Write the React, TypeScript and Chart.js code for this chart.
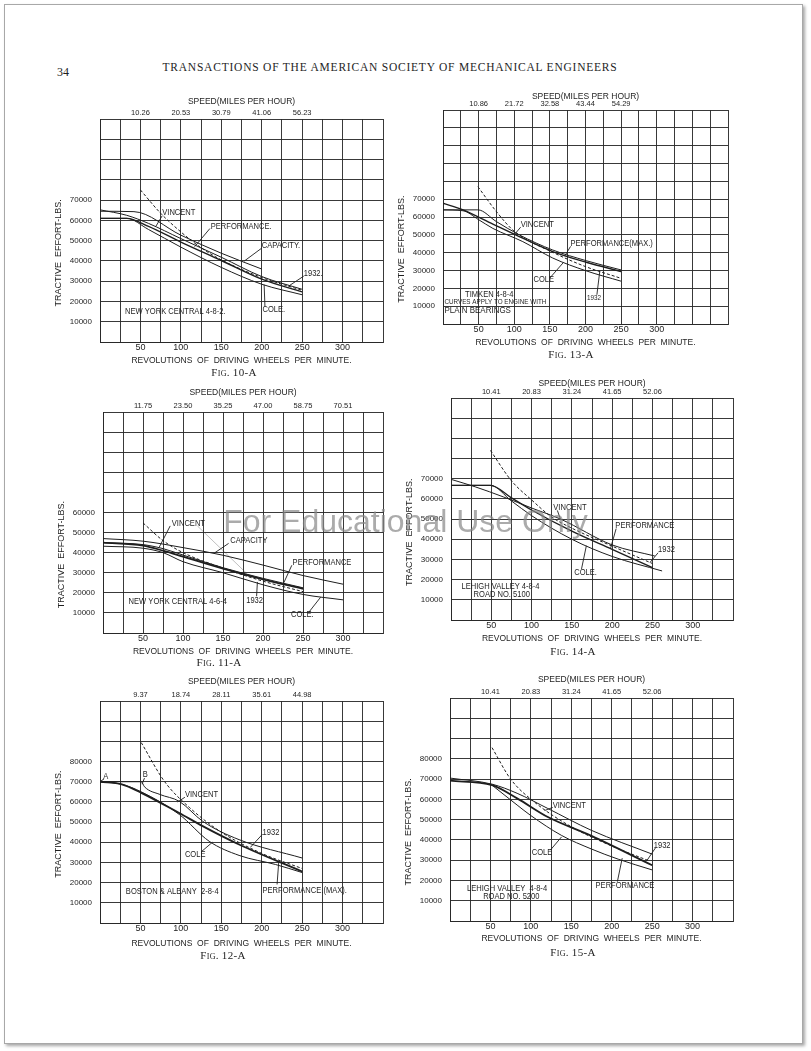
import React, { useEffect, useRef } from 'react';
import { Chart, registerables } from 'chart.js';

Chart.register(...registerables);

type Pt = [number, number];

// ---------------- DATA ----------------
const rpmLabelValues = [50, 100, 150, 200, 250, 300];
const speedTickValues = [50, 100, 150, 200, 250, 300];

// Fig. 10-A  New York Central 4-8-2
const fig10Speeds = ['10.26', '20.53', '30.79', '41.06', '56.23'];
const fig10Capacity: Pt[] = [[0, 64500], [42, 64300], [100, 52700], [150, 43800], [200, 36000]];
const fig10Vincent: Pt[] = [[0, 65200], [33, 62500], [60, 58500], [100, 51000], [150, 41800], [200, 32300], [250, 26000]];
const fig10Performance: Pt[] = [[0, 61000], [33, 61000], [60, 57000], [100, 49300], [150, 40200], [200, 31000], [250, 24700]];
const fig10Cole: Pt[] = [[0, 61000], [33, 61000], [60, 55500], [100, 46800], [150, 36800], [200, 28500], [250, 23300]];
const fig10Y1932: Pt[] = [[50, 75000], [75, 63500], [100, 54300], [125, 46500], [150, 40500], [200, 31800], [250, 25500]];

// Fig. 13-A  Timken 4-8-4
const fig13Speeds = ['10.86', '21.72', '32.58', '43.44', '54.29'];
const fig13Vincent: Pt[] = [[0, 64000], [49, 64000], [75, 57400], [107, 50000], [154, 41500], [201, 35500], [250, 30300]];
const fig13Performance: Pt[] = [[0, 67700], [28, 64000], [70, 56000], [107, 49000], [154, 40600], [201, 34600], [250, 29400]];
const fig13Cole: Pt[] = [[0, 64000], [28, 63500], [50, 58500], [70, 53600], [112, 46200], [154, 37000], [201, 29800], [250, 24000]];
const fig13Y1932: Pt[] = [[49, 77000], [75, 63000], [100, 52000], [154, 40200], [200, 32200], [250, 25600]];

// Fig. 11-A  New York Central 4-6-4
const fig11Speeds = ['11.75', '23.50', '35.25', '47.00', '58.75', '70.51'];
const fig11Capacity: Pt[] = [[0, 47000], [50, 45700], [100, 42500], [150, 38700], [200, 33800], [250, 28600], [300, 24300]];
const fig11Vincent: Pt[] = [[0, 45000], [50, 44000], [75, 42000], [100, 38800], [150, 32500], [200, 27200], [250, 22500]];
const fig11Performance: Pt[] = [[0, 45000], [50, 43500], [75, 41000], [100, 38000], [150, 32000], [200, 26700], [250, 22000]];
const fig11Cole: Pt[] = [[0, 43200], [50, 42200], [75, 40000], [100, 35500], [150, 30000], [200, 24000], [250, 19200], [300, 16500]];
const fig11Y1932: Pt[] = [[50, 54800], [75, 46000], [100, 40000], [150, 32300], [200, 25800], [250, 20600]];

// Fig. 14-A  Lehigh Valley 4-8-4 No. 5100
const fig14Speeds = ['10.41', '20.83', '31.24', '41.65', '52.06'];
const fig14Vincent: Pt[] = [[0, 69700], [30, 66000], [65, 61000], [100, 55500], [136, 50000], [200, 37200], [253, 31700]];
const fig14Performance: Pt[] = [[0, 66700], [49, 66700], [75, 60500], [100, 54500], [150, 44000], [200, 35000], [250, 26000]];
const fig14Cole: Pt[] = [[0, 66700], [49, 66700], [75, 59000], [100, 51700], [150, 40000], [200, 31500], [262, 24300]];
const fig14Y1932: Pt[] = [[49, 84000], [75, 69000], [100, 59500], [125, 51000], [150, 45500], [200, 36600], [250, 28000]];

// Fig. 12-A  Boston & Albany 2-8-4
const fig12Speeds = ['9.37', '18.74', '28.11', '35.61', '44.98'];
const fig12Vincent: Pt[] = [[0, 70000], [51, 70000], [55, 67500], [74, 63700], [98, 60300], [127, 50400], [172, 41300], [250, 32200]];
const fig12Performance: Pt[] = [[0, 70000], [27, 68700], [51, 64500], [98, 54500], [127, 48000], [172, 38900], [250, 25500]];
const fig12Cole: Pt[] = [[0, 70000], [27, 68700], [51, 65000], [98, 53800], [135, 40500], [172, 33500], [217, 29000], [250, 25000]];
const fig12Y1932: Pt[] = [[51, 89400], [80, 70000], [111, 57100], [150, 45000], [200, 34500], [250, 27000]];

// Fig. 15-A  Lehigh Valley 4-8-4 No. 5200
const fig15Speeds = ['10.41', '20.83', '31.24', '41.65', '52.06'];
const fig15Vincent: Pt[] = [[0, 70500], [52, 67500], [83, 63000], [121, 55500], [175, 44700], [250, 33000]];
const fig15Performance: Pt[] = [[0, 69200], [52, 67000], [83, 60500], [121, 51300], [175, 42000], [250, 27500]];
const fig15Cole: Pt[] = [[52, 67000], [83, 57200], [100, 52000], [138, 42200], [175, 35500], [208, 30500], [250, 25200]];
const fig15Y1932: Pt[] = [[52, 85500], [75, 70000], [104, 58800], [150, 46500], [200, 37000], [246, 29700]];

// ---------------- LAYOUT ----------------
interface Note { text: string; at: Pt; leader?: [Pt, Pt]; size?: number; faint?: boolean }
interface Series { data: Pt[]; dashed?: boolean; width?: number }
interface Panel {
  caption: string; captionX: number; captionY: number;
  plot: { l: number; t: number; r: number; b: number };
  xMax: number; yMax: number; yLabelMax: number;
  speeds: string[];
  series: Series[];
  notes: Note[];
  yTitleAt: number;
  speedGap: number; revGap: number;
}

const SANS = "'Liberation Sans', 'DejaVu Sans', Arial, sans-serif";
const SERIF = "'Liberation Serif', 'DejaVu Serif', 'Times New Roman', serif";
const INK = '#1e1e1e';
const GRID = 'rgba(40,40,40,0.92)';

const panels: Panel[] = [
  {
    caption: 'Fig. 10-A', captionX: 234, captionY: 373,
    plot: { l: 100, t: 119, r: 383, b: 342 }, xMax: 350, yMax: 110000, yLabelMax: 70000,
    speeds: fig10Speeds, yTitleAt: 44000, speedGap: 17, revGap: 16,
    series: [
      { data: fig10Capacity }, { data: fig10Vincent }, { data: fig10Performance, width: 1.4 },
      { data: fig10Cole }, { data: fig10Y1932, dashed: true },
    ],
    notes: [
      { text: 'VINCENT', at: [77, 63700], leader: [[77, 62300], [69, 57000]] },
      { text: 'PERFORMANCE.', at: [137, 57200], leader: [[136, 56000], [117, 47000]] },
      { text: 'CAPACITY.', at: [200, 47500], leader: [[200, 46300], [178, 39800]] },
      { text: '1932.', at: [252, 33700], leader: [[252, 32500], [233, 27500]] },
      { text: 'COLE.', at: [201, 15800], leader: [[204, 17500], [203, 28300]] },
      { text: 'NEW YORK CENTRAL 4-8-2.', at: [31, 15000] },
    ],
  },
  {
    caption: 'Fig. 13-A', captionX: 571, captionY: 355,
    plot: { l: 443, t: 110, r: 728, b: 324 }, xMax: 400, yMax: 120000, yLabelMax: 70000,
    speeds: fig13Speeds, yTitleAt: 42000, speedGap: 13, revGap: 16,
    series: [
      { data: fig13Vincent }, { data: fig13Performance, width: 1.4 }, { data: fig13Cole }, { data: fig13Y1932, dashed: true },
    ],
    notes: [
      { text: 'VINCENT', at: [109, 55700], leader: [[109, 54300], [101, 50500]] },
      { text: 'PERFORMANCE(MAX.)', at: [179, 44900], leader: [[179, 43500], [171, 38200]] },
      { text: 'COLE', at: [127, 25200], leader: [[150, 25800], [169, 34500]] },
      { text: '1932', at: [202, 14600], size: 7.5, leader: [[216, 16400], [220, 29500]] },
      { text: 'TIMKEN 4-8-4', at: [31, 16400] },
      { text: 'CURVES APPLY TO ENGINE WITH', at: [2, 12300], size: 7.5 },
      { text: 'PLAIN BEARINGS', at: [2, 7700], size: 9.5 },
    ],
  },
  {
    caption: 'Fig. 11-A', captionX: 219, captionY: 663,
    plot: { l: 103, t: 412, r: 383, b: 633 }, xMax: 350, yMax: 110000, yLabelMax: 60000,
    speeds: fig11Speeds, yTitleAt: 39000, speedGap: 19, revGap: 16,
    series: [
      { data: fig11Capacity }, { data: fig11Vincent }, { data: fig11Performance, width: 1.8 },
      { data: fig11Cole }, { data: fig11Y1932, dashed: true },
    ],
    notes: [
      { text: 'VINCENT', at: [86, 54700], leader: [[84, 53300], [70, 42500]] },
      { text: '', at: [0, 0], leader: [[118, 53300], [180, 29500]], faint: true },
      { text: 'CAPACITY', at: [159, 45800], leader: [[157, 44600], [140, 40000]] },
      { text: 'PERFORMANCE', at: [237, 35000], leader: [[236, 33700], [226, 25000]] },
      { text: '1932', at: [179, 16300], leader: [[192, 18300], [193, 25400]] },
      { text: 'COLE.', at: [235, 9200], leader: [[257, 10200], [272, 17800]] },
      { text: 'NEW YORK CENTRAL 4-6-4', at: [32, 15800] },
    ],
  },
  {
    caption: 'Fig. 14-A', captionX: 573, captionY: 652,
    plot: { l: 451, t: 398, r: 733, b: 620 }, xMax: 350, yMax: 110000, yLabelMax: 70000,
    speeds: fig14Speeds, yTitleAt: 43500, speedGap: 14, revGap: 16,
    series: [
      { data: fig14Vincent }, { data: fig14Performance, width: 1.4 }, { data: fig14Cole }, { data: fig14Y1932, dashed: true },
    ],
    notes: [
      { text: 'VINCENT', at: [127, 55800], leader: [[132, 54300], [136, 49800]] },
      { text: 'PERFORMANCE', at: [204, 47000], leader: [[205, 45300], [198, 35500]] },
      { text: '1932', at: [257, 35000], leader: [[257, 33300], [247, 28500]] },
      { text: 'COLE.', at: [153, 23700], leader: [[162, 25300], [168, 36800]] },
      { text: 'LEHIGH VALLEY 4-8-4', at: [13, 16700] },
      { text: 'ROAD NO. 5100', at: [28, 12500] },
    ],
  },
  {
    caption: 'Fig. 12-A', captionX: 223, captionY: 956,
    plot: { l: 100, t: 701, r: 383, b: 923 }, xMax: 350, yMax: 110000, yLabelMax: 80000,
    speeds: fig12Speeds, yTitleAt: 49000, speedGap: 19, revGap: 19,
    series: [
      { data: fig12Vincent }, { data: fig12Performance, width: 1.8 }, { data: fig12Cole }, { data: fig12Y1932, dashed: true },
    ],
    notes: [
      { text: 'A', at: [4, 72600], size: 9, leader: [[5, 71400], [1, 70300]] },
      { text: 'B', at: [53, 73600], size: 9, leader: [[55, 71800], [52, 68800]] },
      { text: 'VINCENT', at: [105, 63500], leader: [[105, 62300], [96, 60000]] },
      { text: '1932', at: [201, 44900], leader: [[201, 44000], [186, 37500]] },
      { text: 'COLE', at: [105, 34100], leader: [[125, 35200], [139, 40000]] },
      { text: 'PERFORMANCE.(MAX).', at: [201, 16300], leader: [[219, 19100], [221, 30000]] },
      { text: 'BOSTON & ALBANY  2-8-4', at: [32, 15800] },
    ],
  },
  {
    caption: 'Fig. 15-A', captionX: 573, captionY: 953,
    plot: { l: 450, t: 698, r: 733, b: 921 }, xMax: 350, yMax: 110000, yLabelMax: 80000,
    speeds: fig15Speeds, yTitleAt: 44000, speedGap: 18, revGap: 15,
    series: [
      { data: fig15Vincent }, { data: fig15Performance, width: 1.8 }, { data: fig15Cole }, { data: fig15Y1932, dashed: true },
    ],
    notes: [
      { text: 'VINCENT', at: [127, 57000], leader: [[127, 56000], [117, 54500]] },
      { text: '1932', at: [252, 37200], leader: [[254, 36000], [243, 29500]] },
      { text: 'COLE', at: [101, 33900], leader: [[124, 34900], [138, 41500]] },
      { text: 'PERFORMANCE', at: [180, 17300], leader: [[207, 19400], [213, 31000]] },
      { text: 'LEHIGH VALLEY  4-8-4', at: [21, 16100] },
      { text: 'ROAD NO. 5200', at: [41, 12000] },
    ],
  },
];

const LW = 54; // left axis band
const TH = 36; // top axis band
const BH = 26; // bottom axis band
const PR = 8;  // right padding
const NOTE_SQUEEZE = 0.84; // hand-lettered labels are narrow

function makeAnnotate(p: Panel) {
  return {
    id: 'annotate',
    afterDatasetsDraw(chart: any) {
      const { ctx, chartArea } = chart;
      const x = chart.scales.x;
      const y = chart.scales.y;
      ctx.save();
      // y-axis title
      ctx.translate(chartArea.left - 41, y.getPixelForValue(p.yTitleAt));
      ctx.rotate(-Math.PI / 2);
      ctx.font = `9px ${SANS}`;
      ctx.fillStyle = INK;
      ctx.textAlign = 'center';
      ctx.textBaseline = 'middle';
      ctx.fillText('TRACTIVE  EFFORT-LBS.', 0, 0);
      ctx.restore();

      for (const n of p.notes) {
        if (n.leader) {
          ctx.save();
          ctx.beginPath();
          ctx.strokeStyle = n.faint ? 'rgba(60,60,60,0.55)' : INK;
          ctx.lineWidth = n.faint ? 0.6 : 0.9;
          ctx.moveTo(x.getPixelForValue(n.leader[0][0]), y.getPixelForValue(n.leader[0][1]));
          ctx.lineTo(x.getPixelForValue(n.leader[1][0]), y.getPixelForValue(n.leader[1][1]));
          ctx.stroke();
          ctx.restore();
        }
        if (n.text) {
          ctx.save();
          ctx.translate(x.getPixelForValue(n.at[0]), y.getPixelForValue(n.at[1]));
          ctx.scale(NOTE_SQUEEZE, 1);
          ctx.font = `${n.size ?? 9}px ${SANS}`;
          ctx.fillStyle = INK;
          ctx.textAlign = 'left';
          ctx.textBaseline = 'middle';
          ctx.fillText(n.text, 0, 0);
          ctx.restore();
        }
      }
    },
  };
}

function PanelChart({ p }: { p: Panel }) {
  const ref = useRef<HTMLCanvasElement>(null);
  const width = p.plot.r - p.plot.l + LW + PR;
  const height = p.plot.b - p.plot.t + TH + BH;

  useEffect(() => {
    const canvas = ref.current;
    if (!canvas) return;
    const chart = new Chart(canvas, {
      type: 'line',
      data: {
        datasets: p.series.map((s) => ({
          data: s.data.map(([vx, vy]) => ({ x: vx, y: vy })),
          borderColor: INK,
          borderWidth: s.width ?? 1,
          borderDash: s.dashed ? [3, 2] : [],
          pointRadius: 0,
          fill: false,
          cubicInterpolationMode: 'monotone' as const,
          xAxisID: 'x',
          yAxisID: 'y',
        })),
      },
      options: {
        animation: false,
        responsive: false,
        devicePixelRatio: 1,
        events: [],
        layout: { padding: { left: 0, right: PR, top: 0, bottom: 0 } },
        plugins: { legend: { display: false }, tooltip: { enabled: false }, title: { display: false } },
        scales: {
          x: {
            type: 'linear', position: 'bottom', min: 0, max: p.xMax,
            grid: { color: GRID, lineWidth: 1, drawTicks: false },
            border: { color: GRID, width: 1 },
            ticks: {
              stepSize: 25, autoSkip: false, maxRotation: 0, padding: 0, color: INK,
              font: { family: SANS, size: 9 },
              callback: (v: any) => (rpmLabelValues.includes(Number(v)) ? String(v) : ''),
            },
            title: {
              display: true, text: 'REVOLUTIONS  OF  DRIVING  WHEELS  PER  MINUTE.', color: INK,
              font: { family: SANS, size: 8.5 },
              padding: { top: 0, bottom: Math.max(0, BH - 7.5 - p.revGap) },
            },
            afterFit: (s: any) => { s.height = BH; },
          },
          x2: {
            type: 'linear', position: 'top', min: 0, max: p.xMax,
            grid: { display: false, drawTicks: false },
            border: { display: false },
            ticks: {
              stepSize: 50, autoSkip: false, maxRotation: 0, padding: 2, color: INK,
              font: { family: SANS, size: 7.5 },
              callback: (v: any) => {
                const i = speedTickValues.indexOf(Number(v));
                return i >= 0 && i < p.speeds.length ? p.speeds[i] : '';
              },
            },
            title: {
              display: true, text: 'SPEED(MILES PER HOUR)', color: INK,
              font: { family: SANS, size: 8.5 },
              padding: { top: Math.max(0, TH - p.speedGap - 5.1), bottom: 0 },
            },
            afterFit: (s: any) => { s.height = TH; },
          },
          y: {
            type: 'linear', position: 'left', min: 0, max: p.yMax,
            grid: { color: GRID, lineWidth: 1, drawTicks: false },
            border: { color: GRID, width: 1 },
            ticks: {
              stepSize: 10000, autoSkip: false, padding: 8, color: INK, font: { family: SANS, size: 8 },
              callback: (v: any) => (Number(v) > 0 && Number(v) <= p.yLabelMax ? String(v) : ''),
            },
            afterFit: (s: any) => { s.width = LW; },
          },
        },
      } as any,
      plugins: [makeAnnotate(p)],
    });
    return () => chart.destroy();
  }, []);

  return (
    <canvas
      ref={ref}
      width={width}
      height={height}
      style={{ position: 'absolute', left: p.plot.l - LW, top: p.plot.t - TH, width, height }}
    />
  );
}

export default function App() {
  return (
    <div style={{ position: 'absolute', left: 0, top: 0, width: 811, height: 1051, background: '#fff', overflow: 'hidden' }}>
      <div
        style={{
          position: 'absolute', left: 4, top: 4, width: 797, height: 1038,
          border: '1px solid #a8a8a8', boxShadow: '2px 2px 3px rgba(0,0,0,0.35)', background: '#fff',
        }}
      />
      <div style={{ position: 'absolute', left: 57, top: 65, fontFamily: SERIF, fontSize: 12, color: INK }}>34</div>
      <div
        style={{
          position: 'absolute', left: 0, width: 780, top: 61, textAlign: 'center',
          fontFamily: SERIF, fontSize: 11.5, letterSpacing: 0.78, color: INK,
        }}
      >
        TRANSACTIONS OF THE AMERICAN SOCIETY OF MECHANICAL ENGINEERS
      </div>
      {panels.map((p) => (
        <React.Fragment key={p.caption}>
          <PanelChart p={p} />
          <div
            style={{
              position: 'absolute', left: p.captionX - 50, width: 100, top: p.captionY - 7, textAlign: 'center',
              fontFamily: SERIF, fontSize: 11, fontVariant: 'small-caps', letterSpacing: 0.3, color: INK,
            }}
          >
            {p.caption}
          </div>
        </React.Fragment>
      ))}
      <div
        style={{
          position: 'absolute', left: 180, width: 451, top: 503, textAlign: 'center',
          fontFamily: SANS, fontSize: 32, color: 'rgba(135,135,135,0.7)', whiteSpace: 'nowrap',
        }}
      >
        For Educational Use Only
      </div>
    </div>
  );
}
